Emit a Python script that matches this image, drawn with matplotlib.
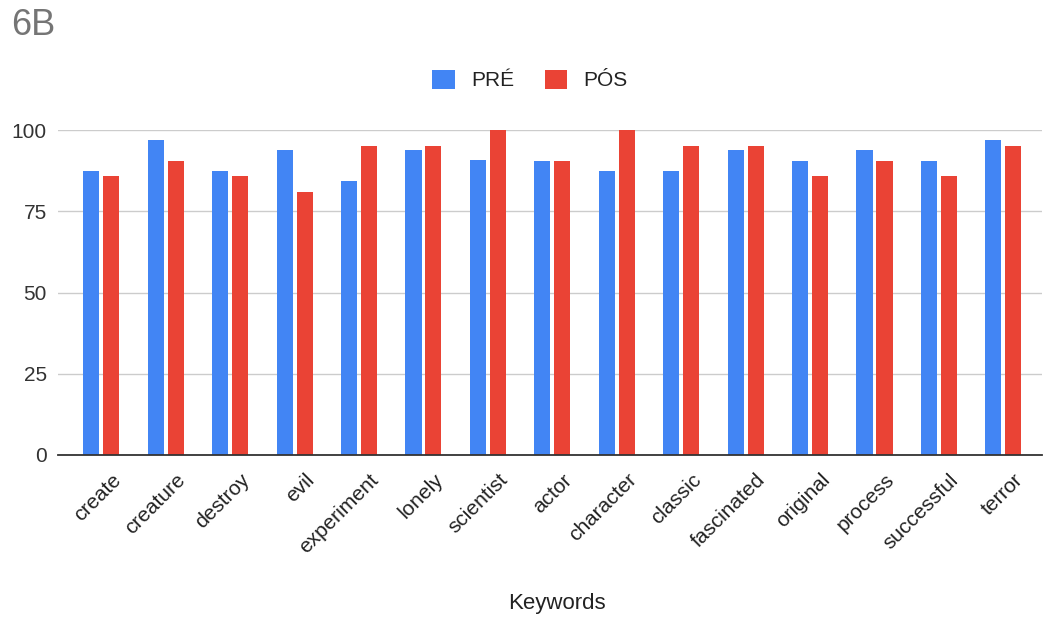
import matplotlib
matplotlib.use("Agg")
import matplotlib.pyplot as plt
import matplotlib.transforms as mtransforms
import numpy as np

plt.rcParams['font.family'] = ['Liberation Sans', 'DejaVu Sans']

keywords = ["create", "creature", "destroy", "evil", "experiment", "lonely",
            "scientist", "actor", "character", "classic", "fascinated",
            "original", "process", "successful", "terror"]
pre = [87.5, 96.9, 87.5, 93.75, 84.4, 93.75, 90.9, 90.5, 87.5, 87.5,
       93.75, 90.5, 93.75, 90.5, 96.9]
pos = [85.7, 90.5, 85.7, 81.0, 95.2, 95.2, 100.0, 90.5, 100.0, 95.2,
       95.2, 85.7, 90.5, 85.7, 95.2]
y_ticks = [0, 25, 50, 75, 100]

BLUE = "#4285F4"
RED = "#EA4335"

W, H = 1049, 622
fig = plt.figure(figsize=(W / 100, H / 100), dpi=100)
ax = fig.add_axes([58 / W, 1 - 455 / H, (1042 - 58) / W, (455 - 130) / H])

x = np.arange(len(keywords))
off = 0.155
w = 0.25
ax.bar(x - off, pre, width=w, color=BLUE, label="PRÉ", zorder=3)
ax.bar(x + off, pos, width=w, color=RED, label="PÓS", zorder=3)

ax.set_xlim(-0.672, 14.6)
ax.set_ylim(0, 100)
ax.set_yticks(y_ticks)
ax.set_yticklabels([str(v) for v in y_ticks], fontsize=15, color="#333333")
ax.yaxis.grid(True, color="#cccccc", linewidth=1, zorder=0)
ax.set_axisbelow(True)
for s in ["top", "right", "left"]:
    ax.spines[s].set_visible(False)
ax.spines["bottom"].set_color("#333333")
ax.spines["bottom"].set_linewidth(1.3)
ax.spines["bottom"].set_zorder(4)
ax.tick_params(axis="both", length=0)
ax.tick_params(axis="y", pad=8)

ax.set_xticks(x)
ax.set_xticklabels(keywords, rotation=45, ha="right", va="top",
                   rotation_mode="anchor", fontsize=15, color="#222222")
ax.tick_params(axis="x", pad=11)
shift = mtransforms.ScaledTranslation(10 / 100, 0, fig.dpi_scale_trans)
for lbl in ax.get_xticklabels():
    lbl.set_transform(lbl.get_transform() + shift)

fig.text(557 / W, 1 - 609 / H, "Keywords", ha="center", va="baseline",
         fontsize=16, color="#222222")
fig.text(11 / W, 1 - 35 / H, "6B", ha="left", va="baseline",
         fontsize=26, color="#757575")

fig.legend(loc="center", bbox_to_anchor=(530 / W, 1 - 80 / H), ncol=2,
           frameon=False, fontsize=15, handlelength=1.06, handleheight=1.06,
           columnspacing=1.45, handletextpad=0.8, labelcolor="#222222")

fig.savefig("out.png", dpi=100, facecolor="white")
